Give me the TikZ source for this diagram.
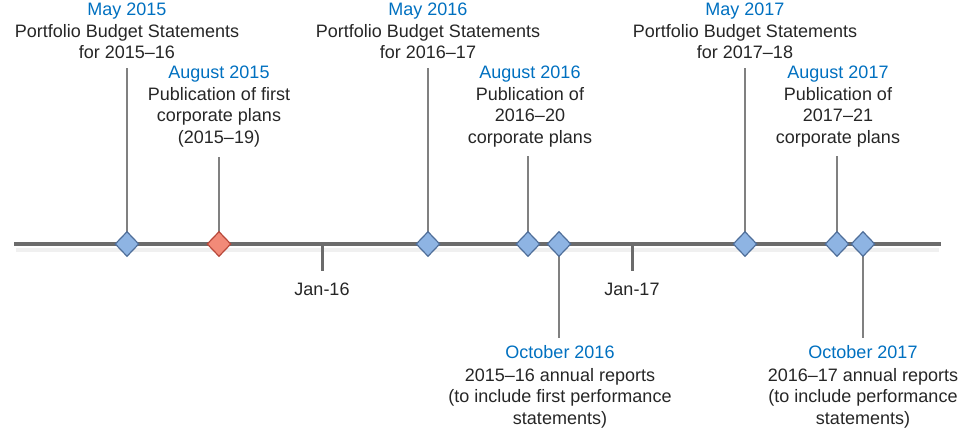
\documentclass[tikz,border=0pt]{standalone}
\usepackage{fontspec}
\setmainfont{Liberation Sans}
\usetikzlibrary{shapes.geometric}

\definecolor{datecol}{HTML}{0070C0}
\definecolor{axiscol}{HTML}{6B6B6B}
\definecolor{stemcol}{HTML}{808080}
\definecolor{mileblue}{HTML}{8EB4E3}
\definecolor{mileblueline}{HTML}{4F6E99}
\definecolor{milered}{HTML}{F28A78}
\definecolor{mileredline}{HTML}{B8483A}

\newcommand{\when}[1]{\textcolor{datecol}{#1}}

\tikzset{
  event/.style={font=\fontsize{18}{21.5}\selectfont, align=center,
    inner sep=0pt, anchor=north, text=black!85},
  stem/.style={stemcol, line width=1.2pt},
  milestone/.style={diamond, draw=mileblueline, fill=mileblue,
    line width=1.2pt, inner sep=0pt, minimum width=24pt, minimum height=25pt},
  firstplan/.style={milestone, draw=mileredline, fill=milered}
}

\begin{document}
\begin{tikzpicture}[x=1pt, y=-1pt]

    \useasboundingbox (0,0) rectangle (967,436);

    % points on the time line
    \coordinate (PBS15) at (127, 244);
    \coordinate (CP15) at (219, 244);
    \coordinate (PBS16) at (428, 244);
    \coordinate (CP16) at (528, 244);
    \coordinate (AR16) at (559, 244);
    \coordinate (PBS17) at (745, 244);
    \coordinate (CP17) at (837, 244);
    \coordinate (AR17) at (863, 244);

    \coordinate (J16) at (322, 244);
    \coordinate (J17) at (632, 244);

    % time line
    \draw[black!6, line width=4pt] (16, 250) -- (939, 250);
    \draw[axiscol, line width=4pt] (14, 244) -- (941, 244);
    \draw[axiscol, line width=3pt] (J16) -- ++(0, 27);
    \draw[axiscol, line width=3pt] (J17) -- ++(0, 27);

    \node[event] (lJ16) at (322, 283) {Jan-16};
    \node[event] (lJ17) at (632, 283) {Jan-17};

    % labels
    \node[event] (lPBS15) at (127, 3)
      {\when{May 2015}\\Portfolio Budget Statements\\for 2015--16};
    \node[event] (lCP15) at (219, 66)
      {\when{August 2015}\\Publication of first\\corporate plans\\(2015--19)};
    \node[event] (lPBS16) at (428, 3)
      {\when{May 2016}\\Portfolio Budget Statements\\for 2016--17};
    \node[event] (lCP16) at (530, 66)
      {\when{August 2016}\\Publication of\\2016--20\\corporate plans};
    \node[event] (lAR16) at (560, 345)
      {\when{October 2016}\\[1.5pt]2015--16 annual reports\\(to include first performance\\statements)};
    \node[event] (lPBS17) at (745, 3)
      {\when{May 2017}\\Portfolio Budget Statements\\for 2017--18};
    \node[event] (lCP17) at (838, 66)
      {\when{August 2017}\\Publication of\\2017--21\\corporate plans};
    \node[event] (lAR17) at (863, 345)
      {\when{October 2017}\\[1.5pt]2016--17 annual reports\\(to include performance\\statements)};

    % stems
    \draw[stem, shorten >=9pt] (PBS15) -- (PBS15 |- lPBS15.south);
    \draw[stem, shorten >=10pt] (CP15) -- (CP15 |- lCP15.south);
    \draw[stem, shorten >=9pt] (PBS16) -- (PBS16 |- lPBS16.south);
    \draw[stem, shorten >=9pt] (CP16) -- (CP16 |- lCP16.south);
    \draw[stem, shorten >=7pt] (AR16) -- (AR16 |- lAR16.north);
    \draw[stem, shorten >=9pt] (PBS17) -- (PBS17 |- lPBS17.south);
    \draw[stem, shorten >=9pt] (CP17) -- (CP17 |- lCP17.south);
    \draw[stem, shorten >=7pt] (AR17) -- (AR17 |- lAR17.north);

    % milestones
    \node[milestone] (mPBS15) at (PBS15) {};
    \node[firstplan] (mCP15) at (CP15) {};
    \node[milestone] (mPBS16) at (PBS16) {};
    \node[milestone] (mCP16) at (CP16) {};
    \node[milestone] (mAR16) at (AR16) {};
    \node[milestone] (mPBS17) at (PBS17) {};
    \node[milestone] (mCP17) at (CP17) {};
    \node[milestone] (mAR17) at (AR17) {};

  \end{tikzpicture}
\end{document}
